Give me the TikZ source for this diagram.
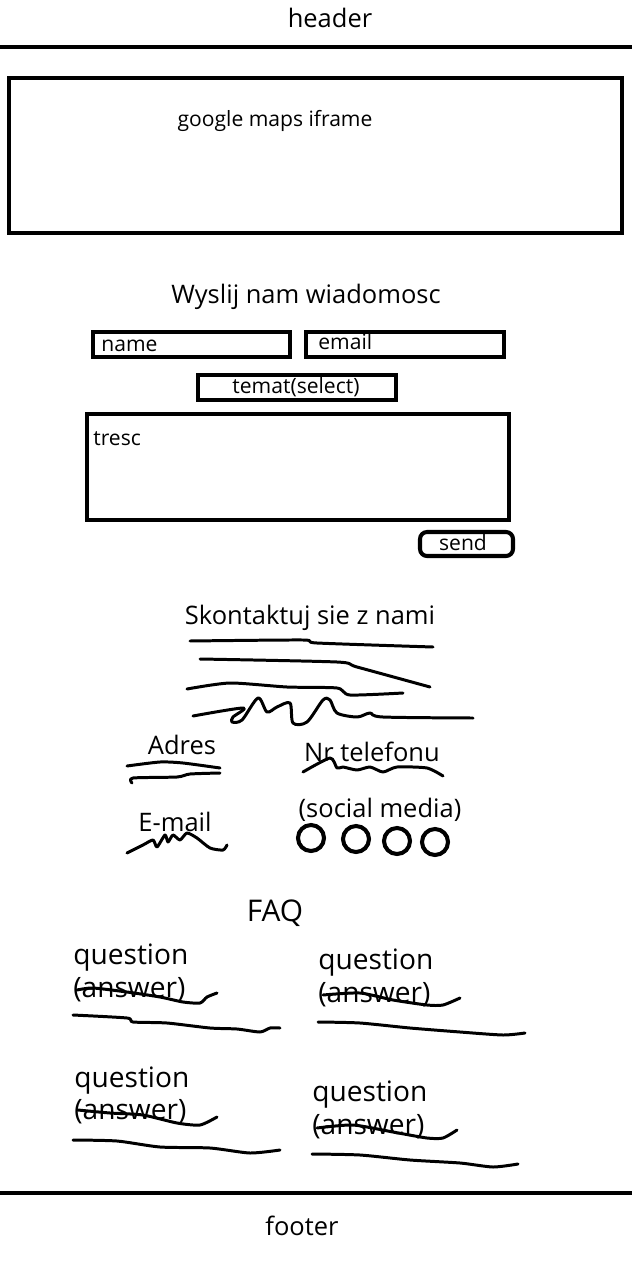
\documentclass[tikz,border=0pt]{standalone}
\usepackage{fontspec}
\setmainfont{Open Sans}
\usepackage{tikz}
\usetikzlibrary{calc,positioning}

\tikzset{
  frame/.style={line width=2.3pt},
  scribble/.style={line width=1.7pt, line cap=round, line join=round},
  bigtxt/.style={inner sep=0pt, font=\fontsize{14.5}{16}\selectfont},
  smalltxt/.style={inner sep=0pt, font=\fontsize{12}{13}\selectfont},
  faqtxt/.style={inner sep=0pt, anchor=west, font=\fontsize{16}{18}\selectfont},
}

\begin{document}
\begin{tikzpicture}[x=0.02cm, y=-0.02cm]
		\useasboundingbox (0,0) rectangle (632,1270);

		% Header
		\node[bigtxt] (header) at (330,18) {header};
		\draw[frame] (0,47) -- (632,47);

		% Mapa
		\draw[frame] (9,78) rectangle (622,233);
		\node[smalltxt] (maps) at (275,121) {google maps iframe};

		% Formularz
		\node[bigtxt] (formtitle) at (306,297) {Wyslij nam wiadomosc};
		\draw[frame] (93,332) rectangle (290,357);
		\node[smalltxt, anchor=west] (name) at (101,346) {name};
		\draw[frame] (306,332) rectangle (504,357);
		\node[smalltxt, anchor=west] (email) at (318,342) {email};
		\draw[frame] (198,375) rectangle (396,400);
		\node[smalltxt] (temat) at (296,387) {temat(select)};
		\draw[frame] (87,414) rectangle (509,520);
		\node[smalltxt, anchor=west] (tresc) at (93,439) {tresc};
		\draw[frame, rounded corners=4pt] (420,532) rectangle (513,556);
		\node[smalltxt] (send) at (463,543) {send};

		% Kontakt
		\node[bigtxt] (contact) at (310,618) {Skontaktuj sie z nami};
		\draw[scribble] plot[smooth, tension=0.4] coordinates {(190,641) (303,640) (317,643) (433,647)};
		\draw[scribble] plot[smooth, tension=0.4] coordinates {(200,659) (337,662) (357,667) (430,687)};
		\draw[scribble] plot[smooth, tension=0.4] coordinates {(187,689) (230,683) (287,687) (337,688) (350,695) (403,693)};
		\draw[scribble] plot[smooth, tension=0.5] coordinates {(193,716) (243,708) (233,717) (232,722) (242,720) (258,698) (267,712) (277,707) (290,703) (293,723) (307,722) (323,700) (330,700) (337,713) (357,717) (370,713) (383,717) (473,718)};

		\node[bigtxt] (adres) at (182,745) {Adres};
		\draw[scribble] plot[smooth, tension=0.4] coordinates {(127,766) (160,762) (183,763) (220,768)};
		\draw[scribble] plot[smooth, tension=0.4] coordinates {(132,783) (133,778) (177,777) (190,774) (220,773)};

		\node[bigtxt] (phone) at (372,752) {Nr telefonu};
		\draw[scribble] plot[smooth, tension=0.4] coordinates {(303,772) (330,758) (337,768) (343,767) (357,770) (370,767) (383,772) (397,767) (427,768) (443,776)};

		\node[bigtxt] (mail) at (175,822) {E-mail};
		\draw[scribble] plot[smooth, tension=0.4] coordinates {(127,853) (143,845) (153,840) (157,847) (165,835) (168,842) (173,835) (180,840) (187,833) (197,838) (210,848) (223,850) (227,845)};

		\node[bigtxt] (social) at (380,810) {(social media)};
		\foreach \cx/\cy in {311/838, 356/839, 397/841, 435/842}
			\draw[frame] (\cx,\cy) circle (13);

		% FAQ
		\node[bigtxt, font=\fontsize{17}{19}\selectfont] (faq) at (275,913) {FAQ};

		\node[faqtxt] (q1) at (73,958) {question};
		\node[faqtxt] (a1) at (73,990) {(answer)};
		\draw[scribble] plot[smooth, tension=0.4] coordinates {(77,990) (93,988) (127,992) (160,997) (183,1002) (200,1003) (207,997) (217,993)};
		\draw[scribble] plot[smooth, tension=0.4] coordinates {(73,1015) (127,1018) (133,1022) (167,1023) (210,1028) (237,1029) (260,1032) (270,1028) (280,1028)};

		\node[faqtxt] (q2) at (318,963) {question};
		\node[faqtxt] (a2) at (318,995) {(answer)};
		\draw[scribble] plot[smooth, tension=0.4] coordinates {(323,995) (360,993) (393,1000) (427,1005) (443,1005) (460,998)};
		\draw[scribble] plot[smooth, tension=0.4] coordinates {(318,1022) (360,1023) (410,1028) (460,1032) (503,1035) (525,1033)};

		\node[faqtxt] (q3) at (74,1081) {question};
		\node[faqtxt] (a3) at (74,1112) {(answer)};
		\draw[scribble] plot[smooth, tension=0.4] coordinates {(78,1110) (110,1113) (143,1115) (177,1123) (200,1125) (217,1117)};
		\draw[scribble] plot[smooth, tension=0.4] coordinates {(73,1140) (117,1141) (160,1147) (210,1148) (250,1153) (280,1150)};

		\node[faqtxt] (q4) at (312,1095) {question};
		\node[faqtxt] (a4) at (312,1127) {(answer)};
		\draw[scribble] plot[smooth, tension=0.4] coordinates {(317,1128) (353,1125) (393,1132) (427,1138) (443,1138) (457,1130)};
		\draw[scribble] plot[smooth, tension=0.4] coordinates {(312,1154) (360,1155) (410,1160) (460,1163) (493,1167) (518,1164)};

		% Footer
		\draw[frame] (0,1193) -- (632,1193);
		\node[bigtxt] (footer) at (302,1226) {footer};

	\end{tikzpicture}
\end{document}
